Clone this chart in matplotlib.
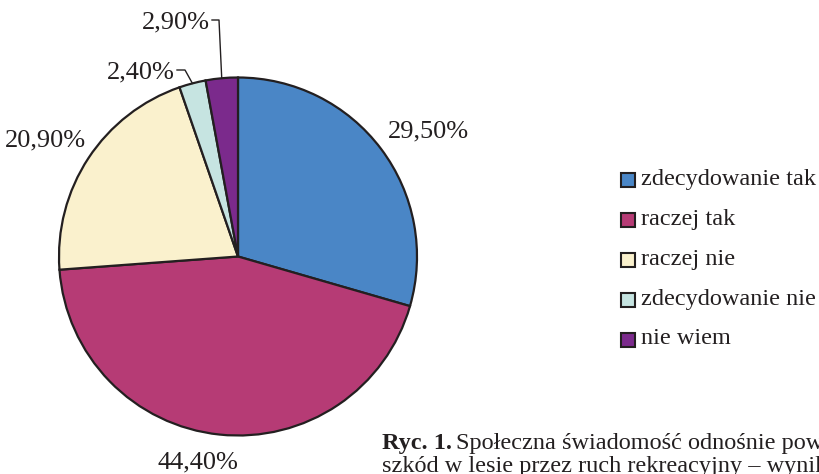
import numpy as np
import matplotlib
matplotlib.use("Agg")
import matplotlib.pyplot as plt
from matplotlib.patches import Rectangle

categories = ["zdecydowanie tak", "raczej tak", "raczej nie", "zdecydowanie nie", "nie wiem"]
values = [29.5, 44.4, 20.9, 2.4, 2.9]
labels = ["29,50%", "44,40%", "20,90%", "2,40%", "2,90%"]
colors = ["#4A86C6", "#B63B75", "#FAF1CD", "#C6E4E1", "#7B2A8C"]

plt.rcParams["font.family"] = ["Liberation Serif", "DejaVu Serif"]
INK = "#231F20"

W, H = 820, 474
fig = plt.figure(figsize=(W / 100, H / 100), dpi=100)

# pie centre / radius in pixels
cx, cy, R = 238, 256.5, 179
ax = fig.add_axes([(cx - 2 * R) / W, (H - cy - 2 * R) / H, 4 * R / W, 4 * R / H])

wedges, _ = ax.pie(values, colors=colors, startangle=90, counterclock=False, radius=1,
                   wedgeprops=dict(edgecolor=INK, linewidth=1.6))
ax.set_xlim(-2, 2)
ax.set_ylim(-2, 2)
ax.set_aspect("equal")
ax.axis("off")

def px(x, y):
    return (x - cx) / R, (cy - y) / R

# big slice labels
pos = {0: (428, 131), 1: (198, 462), 2: (45, 140)}
for i, (x, y) in pos.items():
    ax.text(*px(x, y), labels[i], ha="center", va="center", fontsize=19, color=INK)

# small slices with leader lines
angles = []
start = 90
for v in values:
    sweep = v / sum(values) * 360
    angles.append(start - sweep / 2)
    start -= sweep

a = np.deg2rad(angles[3])
ex, ey = np.cos(a), np.sin(a)
lx, ly = px(185, 70)
ax.plot([px(177, 70)[0], lx, ex], [ly, ly, ey], color=INK, lw=1)
ax.text(*px(175, 72), labels[3], ha="right", va="center", fontsize=19, color=INK)

a = np.deg2rad(angles[4])
ex, ey = np.cos(a), np.sin(a)
lx, ly = px(219, 20)
ax.plot([px(212, 20)[0], lx, ex], [ly, ly, ey], color=INK, lw=1)
ax.text(*px(210, 22), labels[4], ha="right", va="center", fontsize=19, color=INK)

# legend
for i, (c, name) in enumerate(zip(colors, categories)):
    y = 179 + 40 * i
    fig.patches.append(Rectangle((621 / W, (H - y - 7.5) / H), 14 / W, 14 / H,
                                 transform=fig.transFigure, facecolor=c,
                                 edgecolor=INK, linewidth=1.5))
    fig.text(641 / W, (H - y) / H, name, ha="left", va="center", fontsize=17.5, color=INK)

# caption (cut off at the edge as in the source)
renderer = fig.canvas.get_renderer()
bold = fig.text(382 / W, (H - 449) / H, "Ryc. 1.", ha="left", va="baseline", fontsize=17.5,
                fontweight="bold", color=INK)
bx = bold.get_window_extent(renderer).x1
fig.text((bx + 4) / W, (H - 449) / H, "Społeczna świadomość odnośnie powstawania", ha="left",
         va="baseline", fontsize=17.5, color=INK)
fig.text(382 / W, (H - 472) / H, "szkód w lesie przez ruch rekreacyjny – wyniki badań", ha="left",
         va="baseline", fontsize=17.5, color=INK)

fig.savefig("out.png", dpi=100)
